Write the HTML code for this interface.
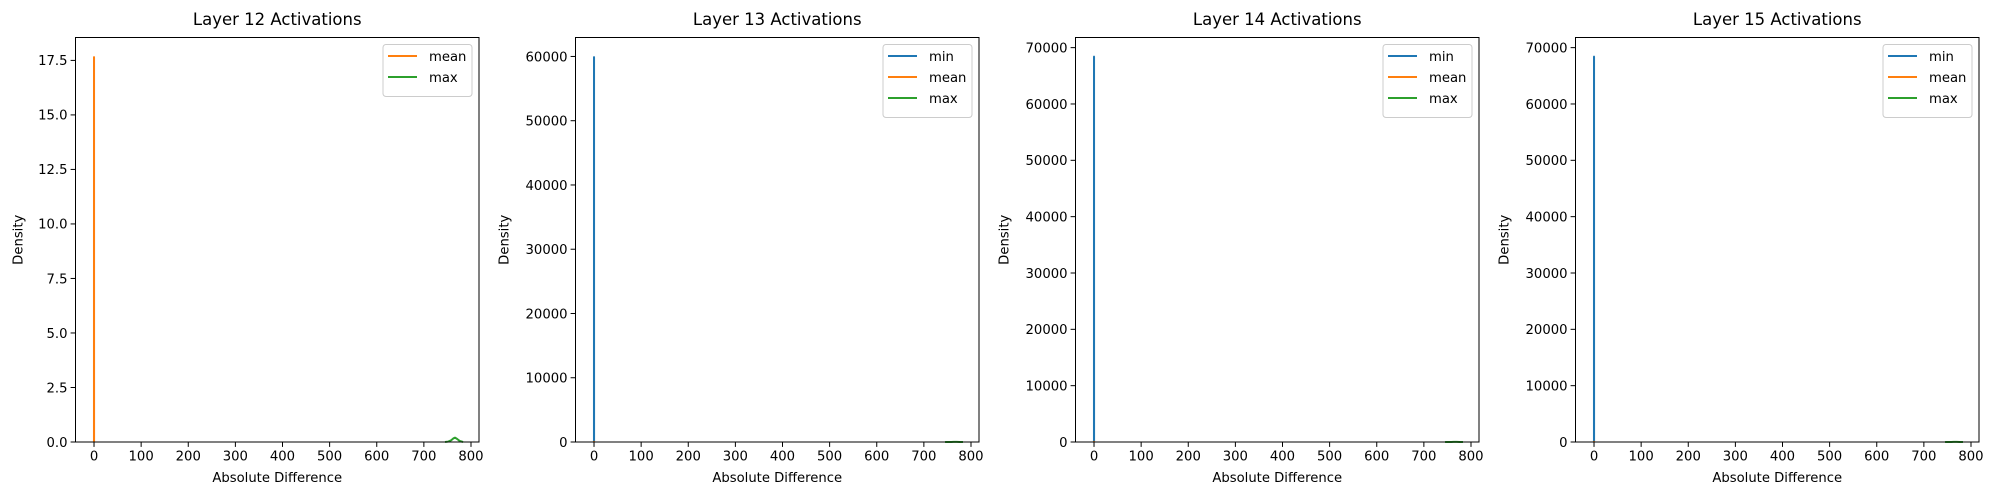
<!DOCTYPE html>
<html><head><meta charset="utf-8"><style>
html,body{margin:0;padding:0;background:#fff;}
svg{display:block;font-family:"DejaVu Sans","Liberation Sans",sans-serif;}
</style></head><body>
<svg id="fig" width="2000" height="500" viewBox="0 0 2000 500"></svg>
<script>
const titles = ["Layer 12 Activations","Layer 13 Activations","Layer 14 Activations","Layer 15 Activations"];
const yMaxes = [18.55, 62950, 71800, 71800];
const yTicks1 = [0,2.5,5,7.5,10,12.5,15,17.5];
const yTickLabels1 = ["0.0","2.5","5.0","7.5","10.0","12.5","15.0","17.5"];
const yTicks2 = [0,10000,20000,30000,40000,50000,60000];
const yTicks3 = [0,10000,20000,30000,40000,50000,60000,70000];
const xTicks = [0,100,200,300,400,500,600,700,800];
const spikeX = [-0.1,-0.05,0,0.05,0.1];
const meanY1 = [0,17.6,17.65,17.6,0];
const minY2 = [0,59800,59900,59800,0];
const minY3 = [0,68300,68400,68300,0];
const meanYsmall = [0,20,40,20,0];
const maxX = [745,752,758,763,766,770,776,783];
const maxY1 = [0,0.02,0.08,0.17,0.2,0.15,0.05,0];
const maxYsmall = [0,2,8,17,20,15,5,0];
const COL = {min:"#1f77b4",mean:"#ff7f0e",max:"#2ca02c"};
const panels = [
  {series:[["mean",spikeX,meanY1],["max",maxX,maxY1]], ticks:yTicks1, labels:yTickLabels1},
  {series:[["min",spikeX,minY2],["mean",spikeX,meanYsmall],["max",maxX,maxYsmall]], ticks:yTicks2, labels:yTicks2.map(String)},
  {series:[["min",spikeX,minY3],["mean",spikeX,meanYsmall],["max",maxX,maxYsmall]], ticks:yTicks3, labels:yTicks3.map(String)},
  {series:[["min",spikeX,minY3],["mean",spikeX,meanYsmall],["max",maxX,maxYsmall]], ticks:yTicks3, labels:yTicks3.map(String)}
];
const NS="http://www.w3.org/2000/svg";
const svg=document.getElementById("fig");
function mk(tag,attrs,parent,text){const e=document.createElementNS(NS,tag);for(const k in attrs)e.setAttribute(k,attrs[k]);if(text!==undefined)e.textContent=text;(parent||svg).appendChild(e);return e;}
const XMIN=-39.3, XMAX=817;
panels.forEach((p,i)=>{
  const L=75.5+500*i, R=L+403.5, T=37.5, B=442;
  const g=mk("g",{});
  
  
  const xs=v=>L+(v-XMIN)/(XMAX-XMIN)*(R-L);
  const ys=v=>B-v/yMaxes[i]*(B-T);
  const t=mk("text",{x:(L+R)/2,y:25,"text-anchor":"middle","font-size":"16.5"},g,titles[i]);
  
  
  p.series.forEach(s=>{
    const pts=s[1].map((x,k)=>xs(x).toFixed(2)+","+ys(s[2][k]).toFixed(2)).join(" ");
    const pl=mk("polyline",{points:pts,fill:"none",stroke:COL[s[0]],"stroke-width":"2","stroke-linejoin":"round"},g);
    
    
  });
  xTicks.forEach(v=>{
    const x=xs(v);
    mk("line",{x1:x,x2:x,y1:B,y2:B+4.9,stroke:"#000","stroke-width":"1"},g);
    const tl=mk("text",{x:x,y:B+18.5,"text-anchor":"middle","font-size":"13.2"},g,String(v));
    
    
  });
  p.ticks.forEach((v,k)=>{
    const y=ys(v);
    mk("line",{x1:L-4.9,x2:L,y1:y,y2:y,stroke:"#000","stroke-width":"1"},g);
    const tl=mk("text",{x:L-8,y:y+4.8,"text-anchor":"end","font-size":"13.2"},g,p.labels[k]);
    
    
  });
  const fr=mk("rect",{x:L,y:T,width:R-L,height:B-T,fill:"none",stroke:"#000","stroke-width":"1"},g);
  
  
  const xl=mk("text",{x:(L+R)/2,y:482,"text-anchor":"middle","font-size":"13.2"},g,"Absolute Difference");
  
  
  const yx = i===0 ? L-53 : L-67;
  const yl=mk("text",{x:yx,y:(T+B)/2,"text-anchor":"middle","font-size":"13.2",transform:`rotate(-90 ${yx} ${(T+B)/2})`},g,"Density");
  
  
  const names=p.series.map(s=>s[0]);
  const lw = 89;
  const lg=mk("g",{},g);
  
  
  mk("rect",{x:R-96,y:44.5,width:lw,height:10+names.length*21,rx:3,fill:"#fff",stroke:"#ccc","stroke-width":"1"},lg);
  names.forEach((n,k)=>{
    const y=56+k*21;
    mk("line",{x1:R-91,x2:R-62,y1:y,y2:y,stroke:COL[n],"stroke-width":"2"},lg);
    const lt=mk("text",{x:R-50,y:y+4.8,"font-size":"13.2"},lg,n);
    
    
  });
});
</script>
</body></html>
